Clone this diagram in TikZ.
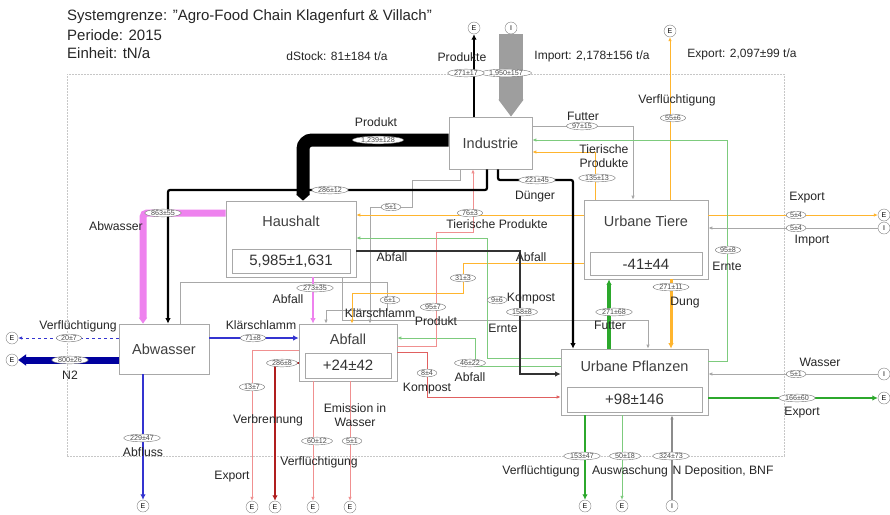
\documentclass[tikz,border=0pt]{standalone}
\usepackage{fontspec}
\setmainfont{Liberation Sans}
\usetikzlibrary{arrows.meta,calc,shapes.geometric}
\definecolor{cgray}{HTML}{A8A8A8}
\definecolor{cimp}{HTML}{9E9E9E}
\definecolor{corange}{HTML}{FFB52E}
\definecolor{cgreen}{HTML}{7DCB7D}
\definecolor{cgreenD}{HTML}{2CA82C}
\definecolor{cpink}{HTML}{F09090}
\definecolor{ckomp}{HTML}{E06060}
\definecolor{cred}{HTML}{B01E1E}
\definecolor{cviolet}{HTML}{EE82EE}
\definecolor{cblue}{HTML}{3434D0}
\definecolor{cnavy}{HTML}{00009E}
\begin{document}
\begin{tikzpicture}[x=1pt,y=-1pt,
  proc/.style={draw=cgray, fill=white, line width=0.7pt, inner sep=0pt},
  pname/.style={font=\fontsize{14.5}{16}\selectfont, text=black!75, inner sep=0pt},
  stockbox/.style={draw=cgray, fill=white, line width=0.7pt, inner sep=0pt, font=\fontsize{15}{17}\selectfont, text=black!80},
  val/.style={ellipse, draw=black!55, fill=white, line width=0.4pt, inner xsep=1pt, inner ysep=0.2pt, text depth=0pt, font=\fontsize{7.2}{8}\selectfont, text=black!70},
  term/.style={circle, draw=black!50, fill=white, line width=0.4pt, minimum size=12pt, inner sep=0pt, font=\fontsize{7}{8}\selectfont},
  lbl/.style={font=\fontsize{12.2}{13.5}\selectfont, inner sep=0.5pt, text=black!85, align=center},
  hdr/.style={font=\fontsize{15}{17}\selectfont, text=black!85, anchor=west, inner sep=0pt},
  sum/.style={font=\fontsize{12}{13}\selectfont, text=black!85, inner sep=0pt},
  thinf/.style={line width=0.8pt},
  tipA/.style={-{Latex[length=4pt,width=3.5pt]}},
  tipB/.style={-{Latex[length=5.5pt,width=5.5pt]}},
]
\fill[white] (0,0) rectangle (890,514);
\useasboundingbox (0,0) rectangle (890,514);

% header
\node[hdr] (t1) at (67,17) {Systemgrenze: "Agro-Food Chain Klagenfurt \& Villach"};
\node[hdr] (t2) at (67,35) {Periode: 2015};
\node[hdr] (t3) at (67,53) {Einheit: tN/a};
\node[sum] (dst) at (337,56) {dStock: 81±184 t/a};
\node[sum] (imp) at (592,56) {Import: 2,178±156 t/a};
\node[sum] (exp) at (742,54) {Export: 2,097±99 t/a};

% system boundary
\node[draw=black!22, line width=0.6pt, dash pattern=on 2pt off 1pt, minimum width=717pt, minimum height=382pt, inner sep=0pt] (sys) at (425.5,265) {};

% processes
\node[proc, minimum width=83pt, minimum height=52pt, pname] (ind) at (490.5,143) {Industrie};
\node[proc, minimum width=130pt, minimum height=76pt] (hh) at (291,239) {};
\node[pname] (hhn) at (291,221) {Haushalt};
\node[stockbox, minimum width=118pt, minimum height=24pt] (hhs) at (291,261) {5,985±1,631};
\node[proc, minimum width=124pt, minimum height=79pt] (ut) at (646,239.5) {};
\node[pname] (utn) at (646,221) {Urbane Tiere};
\node[stockbox, minimum width=112pt, minimum height=23pt] (uts) at (646,264) {-41±44};
\node[proc, minimum width=90pt, minimum height=50pt, pname] (aw) at (164,349) {Abwasser};
\node[proc, minimum width=98pt, minimum height=57pt] (af) at (348,352.5) {};
\node[pname] (afn) at (348,339) {Abfall};
\node[stockbox, minimum width=86pt, minimum height=25pt] (afs) at (348,365.5) {+24±42};
\node[proc, minimum width=147pt, minimum height=66pt] (up) at (634.5,382) {};
\node[pname] (upn) at (634.5,366) {Urbane Pflanzen};
\node[stockbox, minimum width=135pt, minimum height=25pt] (ups) at (634.5,399.5) {+98±146};

% terminals
\node[term] (eProd) at (474,28) {E};
\node[term] (iImp) at (511,28) {I};
\node[term] (eVT) at (670,31) {E};
\node[term] (eUTx) at (884,215) {E};
\node[term] (iUT) at (884,228) {I};
\node[term] (iW) at (884,374) {I};
\node[term] (eUPx) at (884,398) {E};
\node[term] (eAWv) at (12,338) {E};
\node[term] (eN2) at (12,360) {E};
\node[term] (eAbfl) at (143,506) {E};
\node[term] (eAfx) at (252,507) {E};
\node[term] (eVerb) at (275,507) {E};
\node[term] (eAfv) at (313,507) {E};
\node[term] (eEmi) at (350,507) {E};
\node[term] (eUPv) at (585,506) {E};
\node[term] (eAus) at (622,506) {E};
\node[term] (iND) at (672,506) {I};

% ---- flows ----
% thin gray
\draw[thinf, cgray, tipA] (ind.east |- 0,126) -- (633,126) -- (ut.north -| 633,0);
\draw[thinf, cgray, tipA] (iUT.west) -- (ut.east |- iUT);
\draw[thinf, cgray, tipA] (iW.west) -- (up.east |- iW);
\draw[thinf, cgray, tipA] (ind.south -| 460,0) -- (460,180) -- (412,180) -- (412,207) -- (370,207) -- (af.north -| 370,0);
\draw[thinf, cgray, tipA] (aw.north -| 180,0) -- (180,282) -- (387,282) -- (387,310) -- (326,310) -- (af.north -| 326,0);
\draw[thinf, cgray, tipA] (hh.south -| 342,0) -- (342,320) -- (648,320) -- (up.north -| 648,0);
\draw[line width=1.5pt, black!45, tipA] (iND.north) -- (up.south -| iND);
% orange
\draw[thinf, corange, tipA] (ut.north -| 595,0) -- (595,152) -- (ind.east |- 0,152);
\draw[thinf, corange, tipA] (ut.north -| 670,0) -- (eVT.south);
\draw[thinf, corange, tipA] (ut.east |- eUTx) -- (eUTx.west);
\draw[thinf, corange, tipA] (ut.west |- 0,215) -- (hh.east |- 0,215);
\draw[thinf, corange, tipA] (ut.west |- 0,263) -- (463,263) -- (463,293) -- (352,293) -- (af.north -| 352,0);
\draw[line width=3pt, corange, tipB] (ut.south -| 671,0) -- (up.north -| 671,0);
% green
\draw[thinf, cgreen, tipA] (up.east |- 0,361) -- (727,361) -- (727,140) -- (ind.east |- 0,140);
\draw[thinf, cgreen, tipA] (up.west |- 0,358) -- (487,358) -- (487,238) -- (hh.east |- 0,238);
\draw[thinf, cgreen, tipA] (up.west |- 0,366) -- (475,366) -- (475,338) -- (af.east |- 0,338);
\draw[thinf, cgreen, tipA] (up.south -| eAus) -- (eAus.north);
\draw[line width=2.5pt, cgreenD, tipB] (up.east |- eUPx) -- (eUPx.west);
\draw[line width=2.5pt, cgreenD, tipB] (up.south -| eUPv) -- (eUPv.north);
\draw[line width=3.5pt, cgreenD, tipB] (up.north -| 609,0) -- (ut.south -| 609,0);
% pink / red
\draw[thinf, cpink, tipA] (af.east |- 0,346) -- (436,346) -- (436,232) -- (473,232) -- (ind.south -| 473,0);
\draw[thinf, ckomp, tipA] (af.east |- 0,352) -- (427,352) -- (427,397) -- (up.west |- 0,397);
\draw[thinf, cpink, tipA] (af.west |- 0,350) -- (252,350) -- (eAfx.north);
\draw[line width=2.5pt, cred, tipB] (af.west |- 0,363) -- (275,363) -- (eVerb.north);
\draw[thinf, cpink, tipA] (af.south -| eAfv) -- (eAfv.north);
\draw[thinf, cpink, tipA] (af.south -| eEmi) -- (eEmi.north);
% violet / blue
\draw[line width=7pt, cviolet, rounded corners=4pt, -{Triangle[length=6pt,width=8pt]}] (hh.west |- 0,213) -- (143,213) -- (aw.north -| 143,0);
\draw[line width=2pt, cviolet, tipB] (hh.south -| 313,0) -- (af.north -| 313,0);
\draw[thinf, cblue, dashed, tipA] (aw.west |- eAWv) -- (eAWv.east);
\draw[line width=7pt, cnavy, -{Triangle[length=8pt,width=11pt]}] (aw.west |- eN2) -- (eN2.east);
\draw[line width=1.8pt, cblue, tipB] (aw.south -| eAbfl) -- (eAbfl.north);
\draw[line width=2.2pt, cblue, tipB] (aw.east |- 0,338) -- (af.west |- 0,338);
% black
\draw[line width=24pt, cimp, -{Triangle[length=17pt,width=24pt]}] (iImp.south) -- (iImp.south |- ind.north);
\draw[line width=2.5pt, tipB] (eProd.south |- ind.north) -- (eProd.south);
\draw[line width=13pt, rounded corners=9pt, -{Triangle[length=6pt,width=13pt]}] (ind.west |- 0,140) -- (303,140) -- (hh.north -| 303,0);
\draw[line width=2.2pt, rounded corners=2pt, tipB] (ind.south -| 487,0) -- (487,190) -- (168,190) -- (aw.north -| 168,0);
\draw[line width=2.2pt, rounded corners=2pt, tipB] (ind.south -| 498,0) -- (498,180) -- (573,180) -- (up.north -| 573,0);
\draw[line width=1.5pt, black!80, tipB] (hh.east |- 0,251) -- (520,251) -- (520,374) -- (up.west |- 0,374);

% ---- values ----
\node[val] (v1) at (506,73) {1,950±157};
\node[val] (v2) at (466,73) {271±17};
\node[val] (v3) at (378,140) {1,239±128};
\node[val] (v4) at (330,190) {286±12};
\node[val] (v5) at (537,180) {221±45};
\node[val] (v6) at (582,126) {97±15};
\node[val] (v7) at (597,178) {135±13};
\node[val] (v8) at (673,118) {55±6};
\node[val] (v9) at (728,250) {95±8};
\node[val] (v10) at (796,215) {5±4};
\node[val] (v11) at (796,228) {5±4};
\node[val] (v12) at (796,374) {5±1};
\node[val] (v13) at (797,398) {166±60};
\node[val] (v14) at (582,456) {153±47};
\node[val] (v15) at (625,456) {50±18};
\node[val] (v16) at (671,456) {324±73};
\node[val] (v17) at (163,213) {863±55};
\node[val] (v18) at (69,338) {20±7};
\node[val] (v19) at (70,360) {800±26};
\node[val] (v20) at (142,438) {229±47};
\node[val] (v21) at (253,338) {71±8};
\node[val] (v22) at (315,288) {273±35};
\node[val] (v23) at (470,213) {76±3};
\node[val] (v24) at (522,312) {158±8};
\node[val] (v25) at (470,363) {46±22};
\node[val] (v26) at (497,300) {9±6};
\node[val] (v27) at (463,278) {31±3};
\node[val] (v28) at (433,307) {95±7};
\node[val] (v29) at (391,207) {5±1};
\node[val] (v30) at (390,300) {6±1};
\node[val] (v31) at (427,373) {8±4};
\node[val] (v32) at (252,387) {13±7};
\node[val] (v33) at (282,363) {286±8};
\node[val] (v34) at (317,441) {60±12};
\node[val] (v35) at (352,441) {5±1};
\node[val] (v36) at (614,312) {271±68};
\node[val] (v37) at (671,287) {271±11};

% ---- labels ----
\node[lbl] (l1) at (462,57) {Produkte};
\node[lbl] (l2) at (376,122) {Produkt};
\node[lbl] (l3) at (535,197) {Dünger};
\node[lbl] (l4) at (583,116) {Futter};
\node[lbl] (l5) at (604,156) {Tierische\\Produkte};
\node[lbl] (l6) at (677,100) {Verflüchtigung};
\node[lbl] (l7) at (727,266) {Ernte};
\node[lbl] (l8) at (807,198) {Export};
\node[lbl] (l9) at (812,241) {Import};
\node[lbl] (l10) at (820,362) {Wasser};
\node[lbl] (l11) at (802,413) {Export};
\node[lbl] (l12) at (541,471) {Verflüchtigung};
\node[lbl] (l13) at (630,471) {Auswaschung};
\node[lbl] (l14) at (723,471) {N Deposition, BNF};
\node[lbl] (l15) at (116,226) {Abwasser};
\node[lbl] (l16) at (78,326) {Verflüchtigung};
\node[lbl] (l17) at (70,375) {N2};
\node[lbl] (l18) at (143,452) {Abfluss};
\node[lbl] (l19) at (261,325) {Klärschlamm};
\node[lbl] (l20) at (288,299) {Abfall};
\node[lbl] (l21) at (497,224) {Tierische Produkte};
\node[lbl] (l22) at (392,257) {Abfall};
\node[lbl] (l23) at (531,257) {Abfall};
\node[lbl] (l24) at (531,299) {Kompost};
\node[lbl] (l25) at (503,328) {Ernte};
\node[lbl] (l26) at (380,313) {Klärschlamm};
\node[lbl] (l27) at (436,321) {Produkt};
\node[lbl] (l28) at (470,377) {Abfall};
\node[lbl] (l29) at (427,389) {Kompost};
\node[lbl] (l30) at (232,477) {Export};
\node[lbl] (l31) at (268,420) {Verbrennung};
\node[lbl] (l32) at (319,462) {Verflüchtigung};
\node[lbl] (l33) at (355,415) {Emission in\\Wasser};
\node[lbl] (l34) at (610,325) {Futter};
\node[lbl] (l35) at (685,303) {Dung};
\end{tikzpicture}
\end{document}
